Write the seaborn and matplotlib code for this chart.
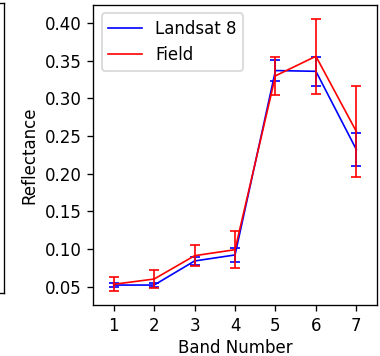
import matplotlib
matplotlib.use('Agg')
import matplotlib.pyplot as plt
import seaborn as sns

# Band numbers and mean reflectance (with standard deviation) per source
bands = [1, 2, 3, 4, 5, 6, 7]
landsat = [0.052, 0.052, 0.084, 0.092, 0.337, 0.336, 0.232]
landsat_sd = [0.003, 0.003, 0.005, 0.009, 0.014, 0.019, 0.022]
field = [0.053, 0.060, 0.091, 0.099, 0.330, 0.356, 0.256]
field_sd = [0.0095, 0.012, 0.014, 0.025, 0.025, 0.050, 0.060]

fig = plt.figure(figsize=(380 / 120, 356 / 120), dpi=120)

# Edge of the neighbouring panel, cut off on the left
left_ax = fig.add_axes([-0.5, 0.177, 0.5105, 0.815])
left_ax.set_xticks([])
left_ax.set_yticks([])

ax = fig.add_axes([0.246, 0.143, 0.745, 0.843])

# Landsat 8 line and error bars
sns.lineplot(x=bands, y=landsat, color='blue', linewidth=1, label='Landsat 8', ax=ax)
ax.errorbar(bands, landsat, yerr=landsat_sd, fmt='none', ecolor='blue',
            elinewidth=1, capsize=3)

# Field line and error bars
sns.lineplot(x=bands, y=field, color='red', linewidth=1, label='Field', ax=ax)
ax.errorbar(bands, field, yerr=field_sd, fmt='none', ecolor='red',
            elinewidth=1, capsize=3)

ax.set_xlim(0.5, 7.5)
ax.set_xticks(bands)
ax.set_xlabel('Band Number', labelpad=2.5)
ax.set_ylabel('Reflectance')
ax.legend(loc='upper left')

fig.savefig('out.png', dpi=120)
